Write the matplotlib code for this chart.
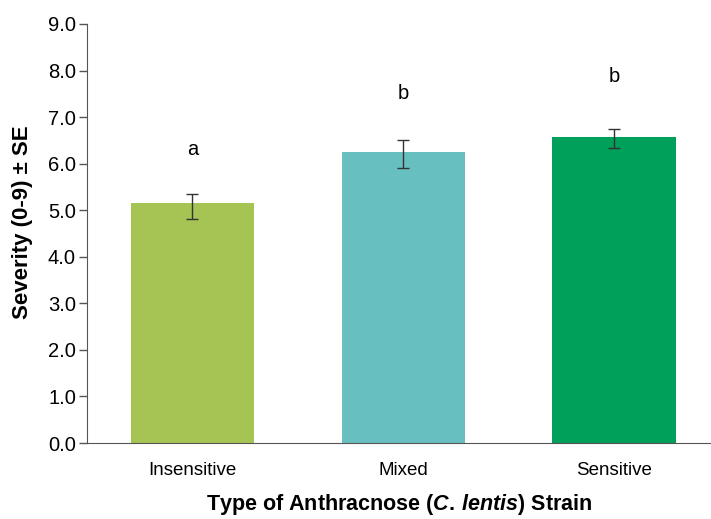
import matplotlib.pyplot as plt

plt.rcParams['font.family'] = ['Liberation Sans', 'DejaVu Sans']
plt.rcParams['mathtext.fontset'] = 'custom'
plt.rcParams['mathtext.it'] = 'Liberation Sans:italic:bold'
plt.rcParams['mathtext.rm'] = 'Liberation Sans:bold'

# data
strains = ['Insensitive', 'Mixed', 'Sensitive']
severity = [5.15, 6.25, 6.57]
err_low = [0.34, 0.35, 0.24]
err_high = [0.20, 0.25, 0.17]
letters = ['a', 'b', 'b']
letter_y = [6.31, 7.50, 7.88]
colors = ['#A6C454', '#67BFBF', '#009F5A']

fig = plt.figure(figsize=(7.11, 5.19), dpi=100)
ax = fig.add_axes([0.1224, 0.1464, 0.8776, 0.8074])

x = range(len(strains))
ax.bar(x, severity, width=0.585, color=colors, zorder=2)
ax.errorbar(x, severity, yerr=[err_low, err_high], fmt='none',
            ecolor='#333333', elinewidth=1.0, capsize=4, capthick=1.0, zorder=3)

for i, (lab, ly) in enumerate(zip(letters, letter_y)):
    ax.text(i, ly, lab, ha='center', va='center', fontsize=14.5)

ax.set_xlim(-0.5, 2.46)
ax.set_ylim(0, 9)
ax.set_yticks([i * 1.0 for i in range(10)])
ax.set_yticklabels(['%.1f' % (i * 1.0) for i in range(10)], fontsize=14.5)
ax.set_xticks(list(x))
ax.set_xticklabels(strains, fontsize=13.5)
ax.tick_params(axis='x', length=0, pad=14)
ax.tick_params(axis='y', length=6, width=1, color='#555555', pad=2)

ax.spines['top'].set_visible(False)
ax.spines['right'].set_visible(False)
ax.spines['left'].set_color('#555555')
ax.spines['bottom'].set_color('#555555')

ax.set_ylabel('Severity (0-9) ± SE', fontsize=16, fontweight='bold')
ax.yaxis.set_label_coords(-0.086, 0.527)
ax.set_xlabel(r'Type of Anthracnose ($\it{C.\,lentis}$) Strain',
              fontsize=15.5, fontweight='bold', labelpad=9)

plt.savefig('out.png', dpi=100)
